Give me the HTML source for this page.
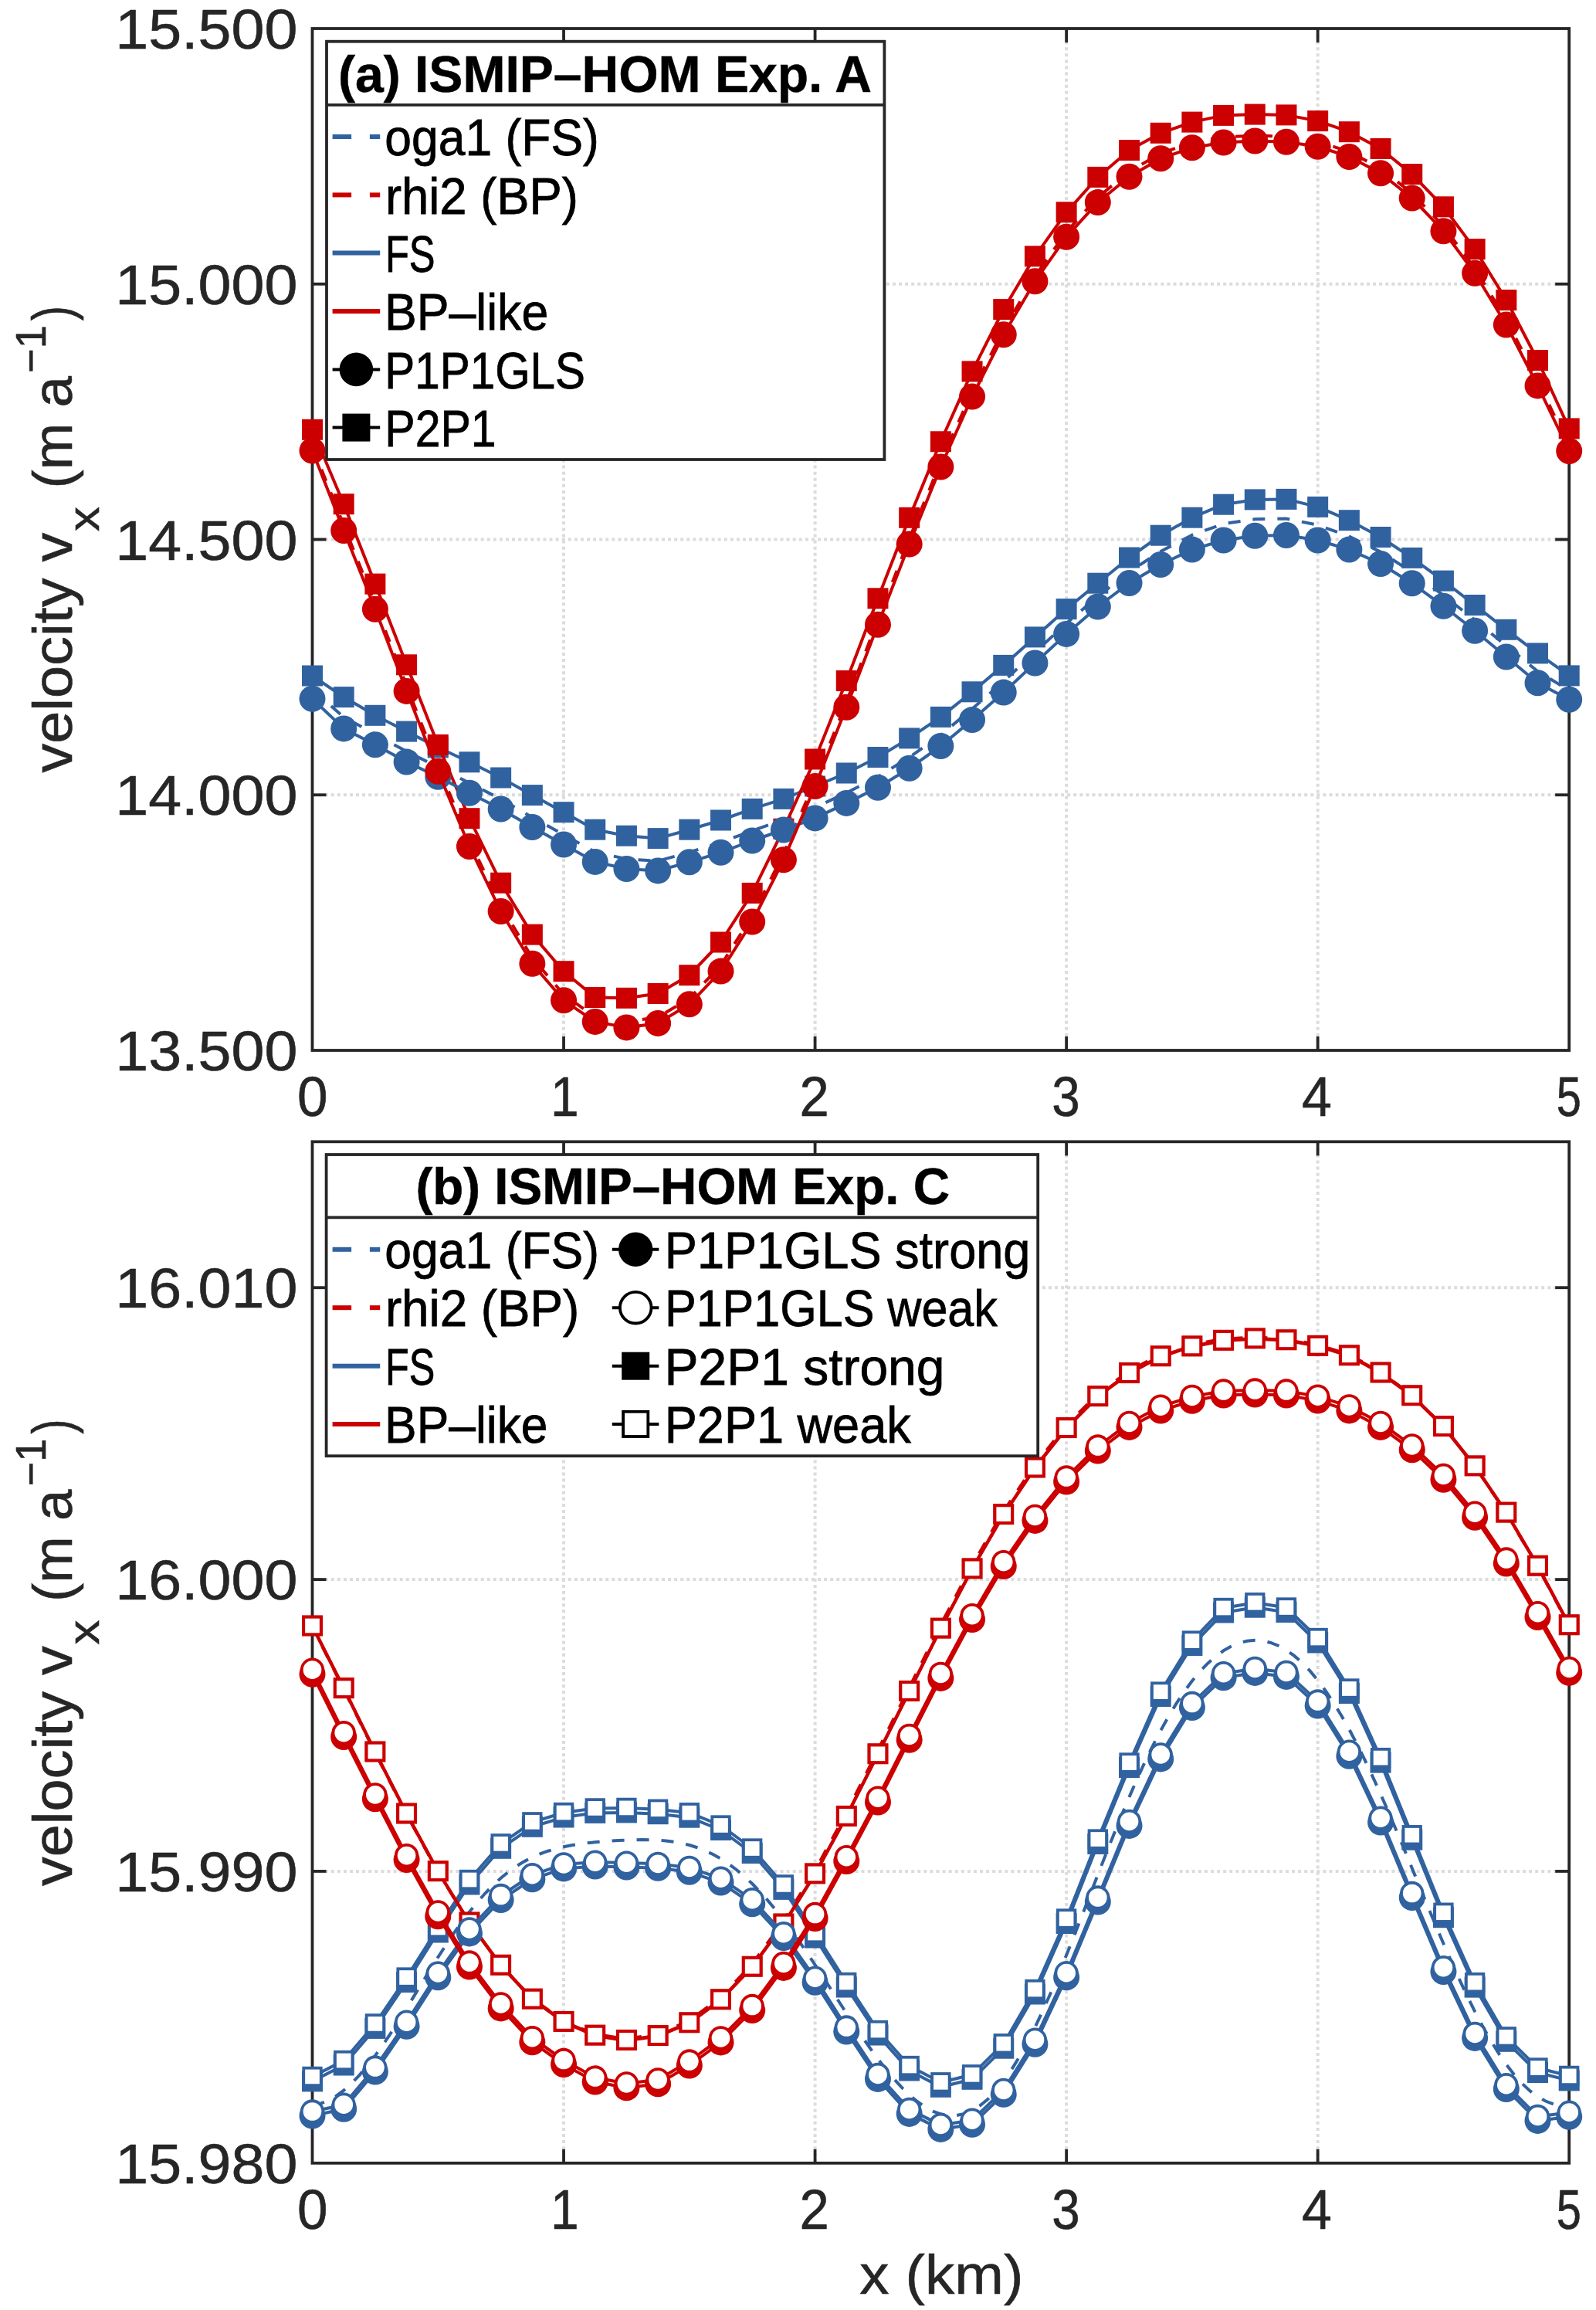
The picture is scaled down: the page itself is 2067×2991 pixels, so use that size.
<!DOCTYPE html><html><head><meta charset="utf-8"><style>html,body{margin:0;padding:0;background:#fff;overflow:hidden;}svg{display:block;}</style></head><body><svg width="2067" height="2991" viewBox="0 0 2067 2991"><rect width="2067" height="2991" fill="#fff"/><line x1="730.04" y1="37" x2="730.04" y2="1360" stroke="#dcdcdc" stroke-width="4" stroke-dasharray="4 4.08"/><line x1="1055.58" y1="37" x2="1055.58" y2="1360" stroke="#dcdcdc" stroke-width="4" stroke-dasharray="4 4.08"/><line x1="1381.12" y1="37" x2="1381.12" y2="1360" stroke="#dcdcdc" stroke-width="4" stroke-dasharray="4 4.08"/><line x1="1706.66" y1="37" x2="1706.66" y2="1360" stroke="#dcdcdc" stroke-width="4" stroke-dasharray="4 4.08"/><line x1="404.5" y1="1029.25" x2="2032.2" y2="1029.25" stroke="#dcdcdc" stroke-width="4" stroke-dasharray="4 4.08"/><line x1="404.5" y1="698.5" x2="2032.2" y2="698.5" stroke="#dcdcdc" stroke-width="4" stroke-dasharray="4 4.08"/><line x1="404.5" y1="367.75" x2="2032.2" y2="367.75" stroke="#dcdcdc" stroke-width="4" stroke-dasharray="4 4.08"/><line x1="730.04" y1="1478.3" x2="730.04" y2="2800.8" stroke="#dcdcdc" stroke-width="4" stroke-dasharray="4 4.08"/><line x1="1055.58" y1="1478.3" x2="1055.58" y2="2800.8" stroke="#dcdcdc" stroke-width="4" stroke-dasharray="4 4.08"/><line x1="1381.12" y1="1478.3" x2="1381.12" y2="2800.8" stroke="#dcdcdc" stroke-width="4" stroke-dasharray="4 4.08"/><line x1="1706.66" y1="1478.3" x2="1706.66" y2="2800.8" stroke="#dcdcdc" stroke-width="4" stroke-dasharray="4 4.08"/><line x1="404.5" y1="2422.94" x2="2032.2" y2="2422.94" stroke="#dcdcdc" stroke-width="4" stroke-dasharray="4 4.08"/><line x1="404.5" y1="2045.09" x2="2032.2" y2="2045.09" stroke="#dcdcdc" stroke-width="4" stroke-dasharray="4 4.08"/><line x1="404.5" y1="1667.23" x2="2032.2" y2="1667.23" stroke="#dcdcdc" stroke-width="4" stroke-dasharray="4 4.08"/><rect x="404.5" y="37" width="1627.7" height="1323" fill="none" stroke="#262626" stroke-width="3.8"/><line x1="730.04" y1="1360" x2="730.04" y2="1342" stroke="#262626" stroke-width="3.8"/><line x1="730.04" y1="37" x2="730.04" y2="55" stroke="#262626" stroke-width="3.8"/><line x1="1055.58" y1="1360" x2="1055.58" y2="1342" stroke="#262626" stroke-width="3.8"/><line x1="1055.58" y1="37" x2="1055.58" y2="55" stroke="#262626" stroke-width="3.8"/><line x1="1381.12" y1="1360" x2="1381.12" y2="1342" stroke="#262626" stroke-width="3.8"/><line x1="1381.12" y1="37" x2="1381.12" y2="55" stroke="#262626" stroke-width="3.8"/><line x1="1706.66" y1="1360" x2="1706.66" y2="1342" stroke="#262626" stroke-width="3.8"/><line x1="1706.66" y1="37" x2="1706.66" y2="55" stroke="#262626" stroke-width="3.8"/><line x1="404.5" y1="1029.25" x2="422.5" y2="1029.25" stroke="#262626" stroke-width="3.8"/><line x1="2032.2" y1="1029.25" x2="2014.2" y2="1029.25" stroke="#262626" stroke-width="3.8"/><line x1="404.5" y1="698.5" x2="422.5" y2="698.5" stroke="#262626" stroke-width="3.8"/><line x1="2032.2" y1="698.5" x2="2014.2" y2="698.5" stroke="#262626" stroke-width="3.8"/><line x1="404.5" y1="367.75" x2="422.5" y2="367.75" stroke="#262626" stroke-width="3.8"/><line x1="2032.2" y1="367.75" x2="2014.2" y2="367.75" stroke="#262626" stroke-width="3.8"/><rect x="404.5" y="1478.3" width="1627.7" height="1322.5" fill="none" stroke="#262626" stroke-width="3.8"/><line x1="730.04" y1="2800.8" x2="730.04" y2="2782.8" stroke="#262626" stroke-width="3.8"/><line x1="730.04" y1="1478.3" x2="730.04" y2="1496.3" stroke="#262626" stroke-width="3.8"/><line x1="1055.58" y1="2800.8" x2="1055.58" y2="2782.8" stroke="#262626" stroke-width="3.8"/><line x1="1055.58" y1="1478.3" x2="1055.58" y2="1496.3" stroke="#262626" stroke-width="3.8"/><line x1="1381.12" y1="2800.8" x2="1381.12" y2="2782.8" stroke="#262626" stroke-width="3.8"/><line x1="1381.12" y1="1478.3" x2="1381.12" y2="1496.3" stroke="#262626" stroke-width="3.8"/><line x1="1706.66" y1="2800.8" x2="1706.66" y2="2782.8" stroke="#262626" stroke-width="3.8"/><line x1="1706.66" y1="1478.3" x2="1706.66" y2="1496.3" stroke="#262626" stroke-width="3.8"/><line x1="404.5" y1="2422.94" x2="422.5" y2="2422.94" stroke="#262626" stroke-width="3.8"/><line x1="2032.2" y1="2422.94" x2="2014.2" y2="2422.94" stroke="#262626" stroke-width="3.8"/><line x1="404.5" y1="2045.09" x2="422.5" y2="2045.09" stroke="#262626" stroke-width="3.8"/><line x1="2032.2" y1="2045.09" x2="2014.2" y2="2045.09" stroke="#262626" stroke-width="3.8"/><line x1="404.5" y1="1667.23" x2="422.5" y2="1667.23" stroke="#262626" stroke-width="3.8"/><line x1="2032.2" y1="1667.23" x2="2014.2" y2="1667.23" stroke="#262626" stroke-width="3.8"/><polyline points="404.5,893.48 445.19,928.41 485.88,950.73 526.58,973.02 567.27,993.15 607.96,1013.86 648.65,1034.73 689.35,1058.22 730.04,1080.8 770.73,1103.35 811.42,1112.16 852.12,1114.82 892.81,1103.51 933.5,1090.83 974.19,1075.54 1014.89,1061.53 1055.58,1045.61 1096.27,1026.53 1136.97,1005.84 1177.66,980.5 1218.35,951.71 1259.04,917.85 1299.74,882.35 1340.43,844.51 1381.12,807.11 1421.81,772.27 1462.51,740.32 1503.2,713.94 1543.89,692.72 1584.58,678.25 1625.28,672.23 1665.97,671.61 1706.66,679.84 1747.35,694.5 1788.05,714.66 1828.74,740.88 1869.43,770.84 1910.12,802.94 1950.82,836.25 1991.51,869.23 2032.2,894" fill="none" stroke="#3162a0" stroke-width="4" stroke-linejoin="round" stroke-dasharray="16 16"/><polyline points="404.5,578.14 445.19,680.14 485.88,782.26 526.58,888.08 567.27,991.92 607.96,1088.74 648.65,1172.64 689.35,1240.18 730.04,1287.78 770.73,1316.62 811.42,1322.78 852.12,1317.22 892.81,1292.78 933.5,1250.08 974.19,1186.08 1014.89,1105.28 1055.58,1011.08 1096.27,908.94 1136.97,802 1177.66,697.66 1218.35,597.96 1259.04,507.06 1299.74,426.76 1340.43,357.72 1381.12,300.32 1421.81,255.56 1462.51,221.94 1503.2,198.7 1543.89,184.58 1584.58,177.48 1625.28,175.62 1665.97,176.74 1706.66,183.08 1747.35,196.54 1788.05,217.94 1828.74,250.32 1869.43,292.92 1910.12,347.56 1950.82,414.1 1991.51,492.82 2032.2,578.18" fill="none" stroke="#cc0000" stroke-width="4" stroke-linejoin="round" stroke-dasharray="16 16"/><polyline points="404.5,875 445.19,902.6 485.88,926.3 526.58,947.1 567.27,967.8 607.96,986.8 648.65,1007 689.35,1029.6 730.04,1051.7 770.73,1074.2 811.42,1082.2 852.12,1085.6 892.81,1074.2 933.5,1062 974.19,1047.4 1014.89,1034.4 1055.58,1018 1096.27,1001 1136.97,980.5 1177.66,955.9 1218.35,928.4 1259.04,895.8 1299.74,861.4 1340.43,824.9 1381.12,788.6 1421.81,755.2 1462.51,722 1503.2,693.2 1543.89,670.2 1584.58,653.2 1625.28,646.9 1665.97,646.4 1706.66,656.4 1747.35,673.7 1788.05,695.5 1828.74,722.4 1869.43,752.1 1910.12,783.5 1950.82,815.3 1991.51,845.9 2032.2,874.9" fill="none" stroke="#3162a0" stroke-width="4.0" stroke-linejoin="round"/><rect x="391" y="861.5" width="27" height="27" fill="#3162a0"/><rect x="431.69" y="889.1" width="27" height="27" fill="#3162a0"/><rect x="472.38" y="912.8" width="27" height="27" fill="#3162a0"/><rect x="513.08" y="933.6" width="27" height="27" fill="#3162a0"/><rect x="553.77" y="954.3" width="27" height="27" fill="#3162a0"/><rect x="594.46" y="973.3" width="27" height="27" fill="#3162a0"/><rect x="635.15" y="993.5" width="27" height="27" fill="#3162a0"/><rect x="675.85" y="1016.1" width="27" height="27" fill="#3162a0"/><rect x="716.54" y="1038.2" width="27" height="27" fill="#3162a0"/><rect x="757.23" y="1060.7" width="27" height="27" fill="#3162a0"/><rect x="797.92" y="1068.7" width="27" height="27" fill="#3162a0"/><rect x="838.62" y="1072.1" width="27" height="27" fill="#3162a0"/><rect x="879.31" y="1060.7" width="27" height="27" fill="#3162a0"/><rect x="920" y="1048.5" width="27" height="27" fill="#3162a0"/><rect x="960.69" y="1033.9" width="27" height="27" fill="#3162a0"/><rect x="1001.39" y="1020.9" width="27" height="27" fill="#3162a0"/><rect x="1042.08" y="1004.5" width="27" height="27" fill="#3162a0"/><rect x="1082.77" y="987.5" width="27" height="27" fill="#3162a0"/><rect x="1123.47" y="967" width="27" height="27" fill="#3162a0"/><rect x="1164.16" y="942.4" width="27" height="27" fill="#3162a0"/><rect x="1204.85" y="914.9" width="27" height="27" fill="#3162a0"/><rect x="1245.54" y="882.3" width="27" height="27" fill="#3162a0"/><rect x="1286.24" y="847.9" width="27" height="27" fill="#3162a0"/><rect x="1326.93" y="811.4" width="27" height="27" fill="#3162a0"/><rect x="1367.62" y="775.1" width="27" height="27" fill="#3162a0"/><rect x="1408.31" y="741.7" width="27" height="27" fill="#3162a0"/><rect x="1449.01" y="708.5" width="27" height="27" fill="#3162a0"/><rect x="1489.7" y="679.7" width="27" height="27" fill="#3162a0"/><rect x="1530.39" y="656.7" width="27" height="27" fill="#3162a0"/><rect x="1571.08" y="639.7" width="27" height="27" fill="#3162a0"/><rect x="1611.78" y="633.4" width="27" height="27" fill="#3162a0"/><rect x="1652.47" y="632.9" width="27" height="27" fill="#3162a0"/><rect x="1693.16" y="642.9" width="27" height="27" fill="#3162a0"/><rect x="1733.85" y="660.2" width="27" height="27" fill="#3162a0"/><rect x="1774.55" y="682" width="27" height="27" fill="#3162a0"/><rect x="1815.24" y="708.9" width="27" height="27" fill="#3162a0"/><rect x="1855.93" y="738.6" width="27" height="27" fill="#3162a0"/><rect x="1896.62" y="770" width="27" height="27" fill="#3162a0"/><rect x="1937.32" y="801.8" width="27" height="27" fill="#3162a0"/><rect x="1978.01" y="832.4" width="27" height="27" fill="#3162a0"/><rect x="2018.7" y="861.4" width="27" height="27" fill="#3162a0"/><polyline points="404.5,556.3 445.19,652.7 485.88,756.1 526.58,860.8 567.27,964.4 607.96,1059.7 648.65,1143.2 689.35,1210.1 730.04,1257.7 770.73,1291.5 811.42,1292.3 852.12,1286.5 892.81,1262.7 933.5,1220 974.19,1156.4 1014.89,1073.2 1055.58,983 1096.27,881.5 1136.97,774.8 1177.66,670.3 1218.35,571.8 1259.04,480.9 1299.74,400.6 1340.43,331.8 1381.12,274.8 1421.81,229.4 1462.51,194.5 1503.2,172.3 1543.89,158.1 1584.58,149.4 1625.28,148.1 1665.97,148.9 1706.66,156.6 1747.35,170.7 1788.05,192.5 1828.74,225.6 1869.43,267.8 1910.12,322.6 1950.82,388.5 1991.51,466.5 2032.2,554.9" fill="none" stroke="#cc0000" stroke-width="4.0" stroke-linejoin="round"/><rect x="391" y="542.8" width="27" height="27" fill="#cc0000"/><rect x="431.69" y="639.2" width="27" height="27" fill="#cc0000"/><rect x="472.38" y="742.6" width="27" height="27" fill="#cc0000"/><rect x="513.08" y="847.3" width="27" height="27" fill="#cc0000"/><rect x="553.77" y="950.9" width="27" height="27" fill="#cc0000"/><rect x="594.46" y="1046.2" width="27" height="27" fill="#cc0000"/><rect x="635.15" y="1129.7" width="27" height="27" fill="#cc0000"/><rect x="675.85" y="1196.6" width="27" height="27" fill="#cc0000"/><rect x="716.54" y="1244.2" width="27" height="27" fill="#cc0000"/><rect x="757.23" y="1278" width="27" height="27" fill="#cc0000"/><rect x="797.92" y="1278.8" width="27" height="27" fill="#cc0000"/><rect x="838.62" y="1273" width="27" height="27" fill="#cc0000"/><rect x="879.31" y="1249.2" width="27" height="27" fill="#cc0000"/><rect x="920" y="1206.5" width="27" height="27" fill="#cc0000"/><rect x="960.69" y="1142.9" width="27" height="27" fill="#cc0000"/><rect x="1001.39" y="1059.7" width="27" height="27" fill="#cc0000"/><rect x="1042.08" y="969.5" width="27" height="27" fill="#cc0000"/><rect x="1082.77" y="868" width="27" height="27" fill="#cc0000"/><rect x="1123.47" y="761.3" width="27" height="27" fill="#cc0000"/><rect x="1164.16" y="656.8" width="27" height="27" fill="#cc0000"/><rect x="1204.85" y="558.3" width="27" height="27" fill="#cc0000"/><rect x="1245.54" y="467.4" width="27" height="27" fill="#cc0000"/><rect x="1286.24" y="387.1" width="27" height="27" fill="#cc0000"/><rect x="1326.93" y="318.3" width="27" height="27" fill="#cc0000"/><rect x="1367.62" y="261.3" width="27" height="27" fill="#cc0000"/><rect x="1408.31" y="215.9" width="27" height="27" fill="#cc0000"/><rect x="1449.01" y="181" width="27" height="27" fill="#cc0000"/><rect x="1489.7" y="158.8" width="27" height="27" fill="#cc0000"/><rect x="1530.39" y="144.6" width="27" height="27" fill="#cc0000"/><rect x="1571.08" y="135.9" width="27" height="27" fill="#cc0000"/><rect x="1611.78" y="134.6" width="27" height="27" fill="#cc0000"/><rect x="1652.47" y="135.4" width="27" height="27" fill="#cc0000"/><rect x="1693.16" y="143.1" width="27" height="27" fill="#cc0000"/><rect x="1733.85" y="157.2" width="27" height="27" fill="#cc0000"/><rect x="1774.55" y="179" width="27" height="27" fill="#cc0000"/><rect x="1815.24" y="212.1" width="27" height="27" fill="#cc0000"/><rect x="1855.93" y="254.3" width="27" height="27" fill="#cc0000"/><rect x="1896.62" y="309.1" width="27" height="27" fill="#cc0000"/><rect x="1937.32" y="375" width="27" height="27" fill="#cc0000"/><rect x="1978.01" y="453" width="27" height="27" fill="#cc0000"/><rect x="2018.7" y="541.4" width="27" height="27" fill="#cc0000"/><polyline points="404.5,904.8 445.19,943.4 485.88,964.2 526.58,986.6 567.27,1005.8 607.96,1026.8 648.65,1047.5 689.35,1071 730.04,1093.5 770.73,1115.9 811.42,1125 852.12,1127.4 892.81,1116.3 933.5,1103.7 974.19,1088.5 1014.89,1074.5 1055.58,1059.4 1096.27,1039.9 1136.97,1019.8 1177.66,994.8 1218.35,966 1259.04,932.1 1299.74,896.6 1340.43,858.5 1381.12,820.9 1421.81,785.5 1462.51,755 1503.2,731 1543.89,711.6 1584.58,699.5 1625.28,693.8 1665.97,693 1706.66,699.5 1747.35,711.6 1788.05,730 1828.74,755.2 1869.43,784.8 1910.12,816.8 1950.82,850.5 1991.51,884.3 2032.2,905.7" fill="none" stroke="#3162a0" stroke-width="4.0" stroke-linejoin="round"/><circle cx="404.5" cy="904.8" r="17" fill="#3162a0"/><circle cx="445.19" cy="943.4" r="17" fill="#3162a0"/><circle cx="485.88" cy="964.2" r="17" fill="#3162a0"/><circle cx="526.58" cy="986.6" r="17" fill="#3162a0"/><circle cx="567.27" cy="1005.8" r="17" fill="#3162a0"/><circle cx="607.96" cy="1026.8" r="17" fill="#3162a0"/><circle cx="648.65" cy="1047.5" r="17" fill="#3162a0"/><circle cx="689.35" cy="1071" r="17" fill="#3162a0"/><circle cx="730.04" cy="1093.5" r="17" fill="#3162a0"/><circle cx="770.73" cy="1115.9" r="17" fill="#3162a0"/><circle cx="811.42" cy="1125" r="17" fill="#3162a0"/><circle cx="852.12" cy="1127.4" r="17" fill="#3162a0"/><circle cx="892.81" cy="1116.3" r="17" fill="#3162a0"/><circle cx="933.5" cy="1103.7" r="17" fill="#3162a0"/><circle cx="974.19" cy="1088.5" r="17" fill="#3162a0"/><circle cx="1014.89" cy="1074.5" r="17" fill="#3162a0"/><circle cx="1055.58" cy="1059.4" r="17" fill="#3162a0"/><circle cx="1096.27" cy="1039.9" r="17" fill="#3162a0"/><circle cx="1136.97" cy="1019.8" r="17" fill="#3162a0"/><circle cx="1177.66" cy="994.8" r="17" fill="#3162a0"/><circle cx="1218.35" cy="966" r="17" fill="#3162a0"/><circle cx="1259.04" cy="932.1" r="17" fill="#3162a0"/><circle cx="1299.74" cy="896.6" r="17" fill="#3162a0"/><circle cx="1340.43" cy="858.5" r="17" fill="#3162a0"/><circle cx="1381.12" cy="820.9" r="17" fill="#3162a0"/><circle cx="1421.81" cy="785.5" r="17" fill="#3162a0"/><circle cx="1462.51" cy="755" r="17" fill="#3162a0"/><circle cx="1503.2" cy="731" r="17" fill="#3162a0"/><circle cx="1543.89" cy="711.6" r="17" fill="#3162a0"/><circle cx="1584.58" cy="699.5" r="17" fill="#3162a0"/><circle cx="1625.28" cy="693.8" r="17" fill="#3162a0"/><circle cx="1665.97" cy="693" r="17" fill="#3162a0"/><circle cx="1706.66" cy="699.5" r="17" fill="#3162a0"/><circle cx="1747.35" cy="711.6" r="17" fill="#3162a0"/><circle cx="1788.05" cy="730" r="17" fill="#3162a0"/><circle cx="1828.74" cy="755.2" r="17" fill="#3162a0"/><circle cx="1869.43" cy="784.8" r="17" fill="#3162a0"/><circle cx="1910.12" cy="816.8" r="17" fill="#3162a0"/><circle cx="1950.82" cy="850.5" r="17" fill="#3162a0"/><circle cx="1991.51" cy="884.3" r="17" fill="#3162a0"/><circle cx="2032.2" cy="905.7" r="17" fill="#3162a0"/><polyline points="404.5,583.6 445.19,687 485.88,788.8 526.58,894.9 567.27,998.8 607.96,1096 648.65,1180 689.35,1247.7 730.04,1295.3 770.73,1322.9 811.42,1330.4 852.12,1324.9 892.81,1300.3 933.5,1257.6 974.19,1193.5 1014.89,1113.3 1055.58,1018.1 1096.27,915.8 1136.97,808.8 1177.66,704.5 1218.35,604.5 1259.04,513.6 1299.74,433.3 1340.43,364.2 1381.12,306.7 1421.81,262.1 1462.51,228.8 1503.2,205.3 1543.89,191.2 1584.58,184.5 1625.28,182.5 1665.97,183.7 1706.66,189.7 1747.35,203 1788.05,224.3 1828.74,256.5 1869.43,299.2 1910.12,353.8 1950.82,420.5 1991.51,499.4 2032.2,584" fill="none" stroke="#cc0000" stroke-width="4.0" stroke-linejoin="round"/><circle cx="404.5" cy="583.6" r="17" fill="#cc0000"/><circle cx="445.19" cy="687" r="17" fill="#cc0000"/><circle cx="485.88" cy="788.8" r="17" fill="#cc0000"/><circle cx="526.58" cy="894.9" r="17" fill="#cc0000"/><circle cx="567.27" cy="998.8" r="17" fill="#cc0000"/><circle cx="607.96" cy="1096" r="17" fill="#cc0000"/><circle cx="648.65" cy="1180" r="17" fill="#cc0000"/><circle cx="689.35" cy="1247.7" r="17" fill="#cc0000"/><circle cx="730.04" cy="1295.3" r="17" fill="#cc0000"/><circle cx="770.73" cy="1322.9" r="17" fill="#cc0000"/><circle cx="811.42" cy="1330.4" r="17" fill="#cc0000"/><circle cx="852.12" cy="1324.9" r="17" fill="#cc0000"/><circle cx="892.81" cy="1300.3" r="17" fill="#cc0000"/><circle cx="933.5" cy="1257.6" r="17" fill="#cc0000"/><circle cx="974.19" cy="1193.5" r="17" fill="#cc0000"/><circle cx="1014.89" cy="1113.3" r="17" fill="#cc0000"/><circle cx="1055.58" cy="1018.1" r="17" fill="#cc0000"/><circle cx="1096.27" cy="915.8" r="17" fill="#cc0000"/><circle cx="1136.97" cy="808.8" r="17" fill="#cc0000"/><circle cx="1177.66" cy="704.5" r="17" fill="#cc0000"/><circle cx="1218.35" cy="604.5" r="17" fill="#cc0000"/><circle cx="1259.04" cy="513.6" r="17" fill="#cc0000"/><circle cx="1299.74" cy="433.3" r="17" fill="#cc0000"/><circle cx="1340.43" cy="364.2" r="17" fill="#cc0000"/><circle cx="1381.12" cy="306.7" r="17" fill="#cc0000"/><circle cx="1421.81" cy="262.1" r="17" fill="#cc0000"/><circle cx="1462.51" cy="228.8" r="17" fill="#cc0000"/><circle cx="1503.2" cy="205.3" r="17" fill="#cc0000"/><circle cx="1543.89" cy="191.2" r="17" fill="#cc0000"/><circle cx="1584.58" cy="184.5" r="17" fill="#cc0000"/><circle cx="1625.28" cy="182.5" r="17" fill="#cc0000"/><circle cx="1665.97" cy="183.7" r="17" fill="#cc0000"/><circle cx="1706.66" cy="189.7" r="17" fill="#cc0000"/><circle cx="1747.35" cy="203" r="17" fill="#cc0000"/><circle cx="1788.05" cy="224.3" r="17" fill="#cc0000"/><circle cx="1828.74" cy="256.5" r="17" fill="#cc0000"/><circle cx="1869.43" cy="299.2" r="17" fill="#cc0000"/><circle cx="1910.12" cy="353.8" r="17" fill="#cc0000"/><circle cx="1950.82" cy="420.5" r="17" fill="#cc0000"/><circle cx="1991.51" cy="499.4" r="17" fill="#cc0000"/><circle cx="2032.2" cy="584" r="17" fill="#cc0000"/><polyline points="404.5,2725.97 414.67,2723.89 424.85,2719.93 435.02,2714.15 445.19,2706.65 455.37,2697.52 465.54,2686.88 475.71,2674.88 485.88,2661.67 496.06,2647.41 506.23,2632.29 516.4,2616.49 526.58,2600.22 536.75,2583.67 546.92,2567.04 557.1,2550.52 567.27,2534.3 577.44,2518.54 587.62,2503.41 597.79,2489.04 607.96,2475.54 618.14,2463.01 628.31,2451.51 638.48,2441.09 648.65,2431.75 658.83,2423.5 669,2416.3 679.17,2410.1 689.35,2404.82 699.52,2400.4 709.69,2396.73 719.87,2393.72 730.04,2391.27 740.21,2389.28 750.39,2387.67 760.56,2386.36 770.73,2385.27 780.91,2384.37 791.08,2383.62 801.25,2383 811.42,2382.51 821.6,2382.19 831.77,2382.06 841.94,2382.18 852.12,2382.62 862.29,2383.44 872.46,2384.74 882.64,2386.58 892.81,2389.05 902.98,2392.23 913.16,2396.2 923.33,2401.01 933.5,2406.72 943.68,2413.36 953.85,2420.96 964.02,2429.53 974.2,2439.05 984.37,2449.51 994.54,2460.86 1004.71,2473.07 1014.89,2486.04 1025.06,2499.73 1035.23,2514.02 1045.41,2528.83 1055.58,2544.05 1065.75,2559.57 1075.93,2575.26 1086.1,2591 1096.27,2606.66 1106.45,2622.11 1116.62,2637.21 1126.79,2651.82 1136.97,2665.78 1147.14,2678.97 1157.31,2691.23 1167.48,2702.41 1177.66,2712.37 1187.83,2720.98 1198,2728.08 1208.18,2733.55 1218.35,2737.28 1228.52,2739.14 1238.7,2739.06 1248.87,2736.94 1259.04,2732.74 1269.22,2726.41 1279.39,2717.94 1289.56,2707.36 1299.74,2694.69 1309.91,2680 1320.08,2663.39 1330.25,2644.98 1340.43,2624.9 1350.6,2603.33 1360.77,2580.45 1370.95,2556.45 1381.12,2531.56 1391.29,2505.99 1401.47,2479.98 1411.64,2453.74 1421.81,2427.51 1431.99,2401.49 1442.16,2375.89 1452.33,2350.91 1462.51,2326.72 1472.68,2303.47 1482.85,2281.31 1493.02,2260.35 1503.2,2240.7 1513.37,2222.43 1523.54,2205.62 1533.72,2190.31 1543.89,2176.53 1554.06,2164.33 1564.24,2153.72 1574.41,2144.7 1584.58,2137.29 1594.76,2131.5 1604.93,2127.33 1615.1,2124.79 1625.28,2123.87 1635.45,2124.59 1645.62,2126.96 1655.79,2130.97 1665.97,2136.62 1676.14,2143.92 1686.31,2152.86 1696.49,2163.42 1706.66,2175.57 1716.83,2189.28 1727.01,2204.5 1737.18,2221.17 1747.35,2239.2 1757.53,2258.52 1767.7,2279.01 1777.87,2300.55 1788.05,2323.01 1798.22,2346.24 1808.39,2370.09 1818.56,2394.39 1828.74,2418.97 1838.91,2443.66 1849.08,2468.26 1859.26,2492.61 1869.43,2516.54 1879.6,2539.85 1889.78,2562.39 1899.95,2584 1910.12,2604.52 1920.3,2623.82 1930.47,2641.75 1940.64,2658.2 1950.82,2673.05 1960.99,2686.22 1971.16,2697.61 1981.33,2707.17 1991.51,2714.83 2001.68,2720.55 2011.85,2724.32 2022.03,2726.12 2032.2,2725.97" fill="none" stroke="#3162a0" stroke-width="4" stroke-dasharray="16 16"/><polyline points="403,2103.5 443.69,2184.2 484.38,2266.5 525.08,2346.5 565.77,2421.2 606.46,2487.5 647.15,2542.7 687.85,2586.6 728.54,2615.9 769.23,2633.6 809.92,2639.9 850.62,2634.1 891.31,2617.3 932,2587.3 972.69,2544.7 1013.39,2489.5 1054.08,2424.4 1094.77,2349.9 1135.47,2269.3 1176.16,2188 1216.85,2106.6 1257.54,2029.4 1298.24,1959.1 1338.93,1898.5 1379.62,1847.1 1420.31,1806.2 1461.01,1776.1 1501.7,1754.3 1542.39,1741.4 1583.08,1733.8 1623.78,1731.4 1664.47,1733.3 1705.16,1740.8 1745.85,1753.3 1786.55,1775.5 1827.24,1805.3 1867.93,1845.1 1908.62,1896.4 1949.32,1956.6 1990.01,2025.7 2030.7,2102.3" fill="none" stroke="#cc0000" stroke-width="4" stroke-linejoin="round" stroke-dasharray="16 16"/><polyline points="404.5,2694.9 445.19,2674 485.88,2626.4 526.58,2566.5 567.27,2502 607.96,2440 648.65,2393.3 689.35,2365.3 730.04,2353 770.73,2347.4 811.42,2346.9 852.12,2348.7 892.81,2353.2 933.5,2369.5 974.19,2399.5 1014.89,2446.4 1055.58,2509 1096.27,2573 1136.97,2635 1177.66,2681 1218.35,2702.3 1259.04,2692.3 1299.74,2652.2 1340.43,2582 1381.12,2490.5 1421.81,2387.5 1462.51,2288.5 1503.2,2196.6 1543.89,2130.6 1584.58,2088 1625.28,2081.2 1665.97,2087.5 1706.66,2127 1747.35,2192.5 1788.05,2282.1 1828.74,2382.2 1869.43,2482.7 1910.12,2573.1 1950.82,2643.3 1991.51,2683.5 2032.2,2693.9" fill="none" stroke="#3162a0" stroke-width="4.0" stroke-linejoin="round"/><rect x="391" y="2681.4" width="27" height="27" fill="#3162a0"/><rect x="431.69" y="2660.5" width="27" height="27" fill="#3162a0"/><rect x="472.38" y="2612.9" width="27" height="27" fill="#3162a0"/><rect x="513.08" y="2553" width="27" height="27" fill="#3162a0"/><rect x="553.77" y="2488.5" width="27" height="27" fill="#3162a0"/><rect x="594.46" y="2426.5" width="27" height="27" fill="#3162a0"/><rect x="635.15" y="2379.8" width="27" height="27" fill="#3162a0"/><rect x="675.85" y="2351.8" width="27" height="27" fill="#3162a0"/><rect x="716.54" y="2339.5" width="27" height="27" fill="#3162a0"/><rect x="757.23" y="2333.9" width="27" height="27" fill="#3162a0"/><rect x="797.92" y="2333.4" width="27" height="27" fill="#3162a0"/><rect x="838.62" y="2335.2" width="27" height="27" fill="#3162a0"/><rect x="879.31" y="2339.7" width="27" height="27" fill="#3162a0"/><rect x="920" y="2356" width="27" height="27" fill="#3162a0"/><rect x="960.69" y="2386" width="27" height="27" fill="#3162a0"/><rect x="1001.39" y="2432.9" width="27" height="27" fill="#3162a0"/><rect x="1042.08" y="2495.5" width="27" height="27" fill="#3162a0"/><rect x="1082.77" y="2559.5" width="27" height="27" fill="#3162a0"/><rect x="1123.47" y="2621.5" width="27" height="27" fill="#3162a0"/><rect x="1164.16" y="2667.5" width="27" height="27" fill="#3162a0"/><rect x="1204.85" y="2688.8" width="27" height="27" fill="#3162a0"/><rect x="1245.54" y="2678.8" width="27" height="27" fill="#3162a0"/><rect x="1286.24" y="2638.7" width="27" height="27" fill="#3162a0"/><rect x="1326.93" y="2568.5" width="27" height="27" fill="#3162a0"/><rect x="1367.62" y="2477" width="27" height="27" fill="#3162a0"/><rect x="1408.31" y="2374" width="27" height="27" fill="#3162a0"/><rect x="1449.01" y="2275" width="27" height="27" fill="#3162a0"/><rect x="1489.7" y="2183.1" width="27" height="27" fill="#3162a0"/><rect x="1530.39" y="2117.1" width="27" height="27" fill="#3162a0"/><rect x="1571.08" y="2074.5" width="27" height="27" fill="#3162a0"/><rect x="1611.78" y="2067.7" width="27" height="27" fill="#3162a0"/><rect x="1652.47" y="2074" width="27" height="27" fill="#3162a0"/><rect x="1693.16" y="2113.5" width="27" height="27" fill="#3162a0"/><rect x="1733.85" y="2179" width="27" height="27" fill="#3162a0"/><rect x="1774.55" y="2268.6" width="27" height="27" fill="#3162a0"/><rect x="1815.24" y="2368.7" width="27" height="27" fill="#3162a0"/><rect x="1855.93" y="2469.2" width="27" height="27" fill="#3162a0"/><rect x="1896.62" y="2559.6" width="27" height="27" fill="#3162a0"/><rect x="1937.32" y="2629.8" width="27" height="27" fill="#3162a0"/><rect x="1978.01" y="2670" width="27" height="27" fill="#3162a0"/><rect x="2018.7" y="2680.4" width="27" height="27" fill="#3162a0"/><polyline points="404.5,2688.9 445.19,2668 485.88,2620.4 526.58,2560.5 567.27,2496 607.96,2434 648.65,2387.3 689.35,2359.3 730.04,2347 770.73,2341.4 811.42,2340.9 852.12,2342.7 892.81,2347.2 933.5,2363.5 974.19,2393.5 1014.89,2440.4 1055.58,2503 1096.27,2567 1136.97,2629 1177.66,2675 1218.35,2696.3 1259.04,2686.3 1299.74,2646.2 1340.43,2576 1381.12,2484.5 1421.81,2381.5 1462.51,2282.5 1503.2,2190.6 1543.89,2124.6 1584.58,2082 1625.28,2075.2 1665.97,2081.5 1706.66,2121 1747.35,2186.5 1788.05,2276.1 1828.74,2376.2 1869.43,2476.7 1910.12,2567.1 1950.82,2637.3 1991.51,2677.5 2032.2,2687.9" fill="none" stroke="#3162a0" stroke-width="4.0" stroke-linejoin="round"/><rect x="393.25" y="2677.65" width="22.5" height="22.5" fill="#fff" stroke="#3162a0" stroke-width="3.8"/><rect x="433.94" y="2656.75" width="22.5" height="22.5" fill="#fff" stroke="#3162a0" stroke-width="3.8"/><rect x="474.63" y="2609.15" width="22.5" height="22.5" fill="#fff" stroke="#3162a0" stroke-width="3.8"/><rect x="515.33" y="2549.25" width="22.5" height="22.5" fill="#fff" stroke="#3162a0" stroke-width="3.8"/><rect x="556.02" y="2484.75" width="22.5" height="22.5" fill="#fff" stroke="#3162a0" stroke-width="3.8"/><rect x="596.71" y="2422.75" width="22.5" height="22.5" fill="#fff" stroke="#3162a0" stroke-width="3.8"/><rect x="637.4" y="2376.05" width="22.5" height="22.5" fill="#fff" stroke="#3162a0" stroke-width="3.8"/><rect x="678.1" y="2348.05" width="22.5" height="22.5" fill="#fff" stroke="#3162a0" stroke-width="3.8"/><rect x="718.79" y="2335.75" width="22.5" height="22.5" fill="#fff" stroke="#3162a0" stroke-width="3.8"/><rect x="759.48" y="2330.15" width="22.5" height="22.5" fill="#fff" stroke="#3162a0" stroke-width="3.8"/><rect x="800.17" y="2329.65" width="22.5" height="22.5" fill="#fff" stroke="#3162a0" stroke-width="3.8"/><rect x="840.87" y="2331.45" width="22.5" height="22.5" fill="#fff" stroke="#3162a0" stroke-width="3.8"/><rect x="881.56" y="2335.95" width="22.5" height="22.5" fill="#fff" stroke="#3162a0" stroke-width="3.8"/><rect x="922.25" y="2352.25" width="22.5" height="22.5" fill="#fff" stroke="#3162a0" stroke-width="3.8"/><rect x="962.94" y="2382.25" width="22.5" height="22.5" fill="#fff" stroke="#3162a0" stroke-width="3.8"/><rect x="1003.64" y="2429.15" width="22.5" height="22.5" fill="#fff" stroke="#3162a0" stroke-width="3.8"/><rect x="1044.33" y="2491.75" width="22.5" height="22.5" fill="#fff" stroke="#3162a0" stroke-width="3.8"/><rect x="1085.02" y="2555.75" width="22.5" height="22.5" fill="#fff" stroke="#3162a0" stroke-width="3.8"/><rect x="1125.72" y="2617.75" width="22.5" height="22.5" fill="#fff" stroke="#3162a0" stroke-width="3.8"/><rect x="1166.41" y="2663.75" width="22.5" height="22.5" fill="#fff" stroke="#3162a0" stroke-width="3.8"/><rect x="1207.1" y="2685.05" width="22.5" height="22.5" fill="#fff" stroke="#3162a0" stroke-width="3.8"/><rect x="1247.79" y="2675.05" width="22.5" height="22.5" fill="#fff" stroke="#3162a0" stroke-width="3.8"/><rect x="1288.49" y="2634.95" width="22.5" height="22.5" fill="#fff" stroke="#3162a0" stroke-width="3.8"/><rect x="1329.18" y="2564.75" width="22.5" height="22.5" fill="#fff" stroke="#3162a0" stroke-width="3.8"/><rect x="1369.87" y="2473.25" width="22.5" height="22.5" fill="#fff" stroke="#3162a0" stroke-width="3.8"/><rect x="1410.56" y="2370.25" width="22.5" height="22.5" fill="#fff" stroke="#3162a0" stroke-width="3.8"/><rect x="1451.26" y="2271.25" width="22.5" height="22.5" fill="#fff" stroke="#3162a0" stroke-width="3.8"/><rect x="1491.95" y="2179.35" width="22.5" height="22.5" fill="#fff" stroke="#3162a0" stroke-width="3.8"/><rect x="1532.64" y="2113.35" width="22.5" height="22.5" fill="#fff" stroke="#3162a0" stroke-width="3.8"/><rect x="1573.33" y="2070.75" width="22.5" height="22.5" fill="#fff" stroke="#3162a0" stroke-width="3.8"/><rect x="1614.03" y="2063.95" width="22.5" height="22.5" fill="#fff" stroke="#3162a0" stroke-width="3.8"/><rect x="1654.72" y="2070.25" width="22.5" height="22.5" fill="#fff" stroke="#3162a0" stroke-width="3.8"/><rect x="1695.41" y="2109.75" width="22.5" height="22.5" fill="#fff" stroke="#3162a0" stroke-width="3.8"/><rect x="1736.1" y="2175.25" width="22.5" height="22.5" fill="#fff" stroke="#3162a0" stroke-width="3.8"/><rect x="1776.8" y="2264.85" width="22.5" height="22.5" fill="#fff" stroke="#3162a0" stroke-width="3.8"/><rect x="1817.49" y="2364.95" width="22.5" height="22.5" fill="#fff" stroke="#3162a0" stroke-width="3.8"/><rect x="1858.18" y="2465.45" width="22.5" height="22.5" fill="#fff" stroke="#3162a0" stroke-width="3.8"/><rect x="1898.87" y="2555.85" width="22.5" height="22.5" fill="#fff" stroke="#3162a0" stroke-width="3.8"/><rect x="1939.57" y="2626.05" width="22.5" height="22.5" fill="#fff" stroke="#3162a0" stroke-width="3.8"/><rect x="1980.26" y="2666.25" width="22.5" height="22.5" fill="#fff" stroke="#3162a0" stroke-width="3.8"/><rect x="2020.95" y="2676.65" width="22.5" height="22.5" fill="#fff" stroke="#3162a0" stroke-width="3.8"/><polyline points="404.5,2105.8 445.19,2186.5 485.88,2268.8 526.58,2348.8 567.27,2423.5 607.96,2489.8 648.65,2545 689.35,2588.9 730.04,2618.2 770.73,2635.9 811.42,2642.2 852.12,2636.4 892.81,2619.6 933.5,2589.6 974.19,2547 1014.89,2491.8 1055.58,2426.7 1096.27,2352.2 1136.97,2271.6 1177.66,2190.3 1218.35,2108.9 1259.04,2031.7 1299.74,1961.4 1340.43,1900.8 1381.12,1849.4 1421.81,1808.5 1462.51,1778.4 1503.2,1756.6 1543.89,1743.7 1584.58,1736.1 1625.28,1733.7 1665.97,1735.6 1706.66,1743.1 1747.35,1755.6 1788.05,1777.8 1828.74,1807.6 1869.43,1847.4 1910.12,1898.7 1950.82,1958.9 1991.51,2028 2032.2,2104.6" fill="none" stroke="#cc0000" stroke-width="4.0" stroke-linejoin="round"/><rect x="391" y="2091.5" width="27" height="27" fill="#cc0000"/><rect x="431.69" y="2172.2" width="27" height="27" fill="#cc0000"/><rect x="472.38" y="2254.5" width="27" height="27" fill="#cc0000"/><rect x="513.08" y="2334.5" width="27" height="27" fill="#cc0000"/><rect x="553.77" y="2409.2" width="27" height="27" fill="#cc0000"/><rect x="594.46" y="2475.5" width="27" height="27" fill="#cc0000"/><rect x="635.15" y="2530.7" width="27" height="27" fill="#cc0000"/><rect x="675.85" y="2574.6" width="27" height="27" fill="#cc0000"/><rect x="716.54" y="2603.9" width="27" height="27" fill="#cc0000"/><rect x="757.23" y="2621.6" width="27" height="27" fill="#cc0000"/><rect x="797.92" y="2627.9" width="27" height="27" fill="#cc0000"/><rect x="838.62" y="2622.1" width="27" height="27" fill="#cc0000"/><rect x="879.31" y="2605.3" width="27" height="27" fill="#cc0000"/><rect x="920" y="2575.3" width="27" height="27" fill="#cc0000"/><rect x="960.69" y="2532.7" width="27" height="27" fill="#cc0000"/><rect x="1001.39" y="2477.5" width="27" height="27" fill="#cc0000"/><rect x="1042.08" y="2412.4" width="27" height="27" fill="#cc0000"/><rect x="1082.77" y="2337.9" width="27" height="27" fill="#cc0000"/><rect x="1123.47" y="2257.3" width="27" height="27" fill="#cc0000"/><rect x="1164.16" y="2176" width="27" height="27" fill="#cc0000"/><rect x="1204.85" y="2094.6" width="27" height="27" fill="#cc0000"/><rect x="1245.54" y="2017.4" width="27" height="27" fill="#cc0000"/><rect x="1286.24" y="1947.1" width="27" height="27" fill="#cc0000"/><rect x="1326.93" y="1886.5" width="27" height="27" fill="#cc0000"/><rect x="1367.62" y="1835.1" width="27" height="27" fill="#cc0000"/><rect x="1408.31" y="1794.2" width="27" height="27" fill="#cc0000"/><rect x="1449.01" y="1764.1" width="27" height="27" fill="#cc0000"/><rect x="1489.7" y="1742.3" width="27" height="27" fill="#cc0000"/><rect x="1530.39" y="1729.4" width="27" height="27" fill="#cc0000"/><rect x="1571.08" y="1721.8" width="27" height="27" fill="#cc0000"/><rect x="1611.78" y="1719.4" width="27" height="27" fill="#cc0000"/><rect x="1652.47" y="1721.3" width="27" height="27" fill="#cc0000"/><rect x="1693.16" y="1728.8" width="27" height="27" fill="#cc0000"/><rect x="1733.85" y="1741.3" width="27" height="27" fill="#cc0000"/><rect x="1774.55" y="1763.5" width="27" height="27" fill="#cc0000"/><rect x="1815.24" y="1793.3" width="27" height="27" fill="#cc0000"/><rect x="1855.93" y="1833.1" width="27" height="27" fill="#cc0000"/><rect x="1896.62" y="1884.4" width="27" height="27" fill="#cc0000"/><rect x="1937.32" y="1944.6" width="27" height="27" fill="#cc0000"/><rect x="1978.01" y="2013.7" width="27" height="27" fill="#cc0000"/><rect x="2018.7" y="2090.3" width="27" height="27" fill="#cc0000"/><polyline points="404.5,2105 445.19,2185.7 485.88,2268 526.58,2348 567.27,2422.7 607.96,2489 648.65,2544.2 689.35,2588.1 730.04,2617.4 770.73,2635.1 811.42,2641.4 852.12,2635.6 892.81,2618.8 933.5,2588.8 974.19,2546.2 1014.89,2491 1055.58,2425.9 1096.27,2351.4 1136.97,2270.8 1177.66,2189.5 1218.35,2108.1 1259.04,2030.9 1299.74,1960.6 1340.43,1900 1381.12,1848.6 1421.81,1807.7 1462.51,1777.6 1503.2,1755.8 1543.89,1742.9 1584.58,1735.3 1625.28,1732.9 1665.97,1734.8 1706.66,1742.3 1747.35,1754.8 1788.05,1777 1828.74,1806.8 1869.43,1846.6 1910.12,1897.9 1950.82,1958.1 1991.51,2027.2 2032.2,2103.8" fill="none" stroke="#cc0000" stroke-width="4.0" stroke-linejoin="round"/><rect x="393.25" y="2093.75" width="22.5" height="22.5" fill="#fff" stroke="#cc0000" stroke-width="3.8"/><rect x="433.94" y="2174.45" width="22.5" height="22.5" fill="#fff" stroke="#cc0000" stroke-width="3.8"/><rect x="474.63" y="2256.75" width="22.5" height="22.5" fill="#fff" stroke="#cc0000" stroke-width="3.8"/><rect x="515.33" y="2336.75" width="22.5" height="22.5" fill="#fff" stroke="#cc0000" stroke-width="3.8"/><rect x="556.02" y="2411.45" width="22.5" height="22.5" fill="#fff" stroke="#cc0000" stroke-width="3.8"/><rect x="596.71" y="2477.75" width="22.5" height="22.5" fill="#fff" stroke="#cc0000" stroke-width="3.8"/><rect x="637.4" y="2532.95" width="22.5" height="22.5" fill="#fff" stroke="#cc0000" stroke-width="3.8"/><rect x="678.1" y="2576.85" width="22.5" height="22.5" fill="#fff" stroke="#cc0000" stroke-width="3.8"/><rect x="718.79" y="2606.15" width="22.5" height="22.5" fill="#fff" stroke="#cc0000" stroke-width="3.8"/><rect x="759.48" y="2623.85" width="22.5" height="22.5" fill="#fff" stroke="#cc0000" stroke-width="3.8"/><rect x="800.17" y="2630.15" width="22.5" height="22.5" fill="#fff" stroke="#cc0000" stroke-width="3.8"/><rect x="840.87" y="2624.35" width="22.5" height="22.5" fill="#fff" stroke="#cc0000" stroke-width="3.8"/><rect x="881.56" y="2607.55" width="22.5" height="22.5" fill="#fff" stroke="#cc0000" stroke-width="3.8"/><rect x="922.25" y="2577.55" width="22.5" height="22.5" fill="#fff" stroke="#cc0000" stroke-width="3.8"/><rect x="962.94" y="2534.95" width="22.5" height="22.5" fill="#fff" stroke="#cc0000" stroke-width="3.8"/><rect x="1003.64" y="2479.75" width="22.5" height="22.5" fill="#fff" stroke="#cc0000" stroke-width="3.8"/><rect x="1044.33" y="2414.65" width="22.5" height="22.5" fill="#fff" stroke="#cc0000" stroke-width="3.8"/><rect x="1085.02" y="2340.15" width="22.5" height="22.5" fill="#fff" stroke="#cc0000" stroke-width="3.8"/><rect x="1125.72" y="2259.55" width="22.5" height="22.5" fill="#fff" stroke="#cc0000" stroke-width="3.8"/><rect x="1166.41" y="2178.25" width="22.5" height="22.5" fill="#fff" stroke="#cc0000" stroke-width="3.8"/><rect x="1207.1" y="2096.85" width="22.5" height="22.5" fill="#fff" stroke="#cc0000" stroke-width="3.8"/><rect x="1247.79" y="2019.65" width="22.5" height="22.5" fill="#fff" stroke="#cc0000" stroke-width="3.8"/><rect x="1288.49" y="1949.35" width="22.5" height="22.5" fill="#fff" stroke="#cc0000" stroke-width="3.8"/><rect x="1329.18" y="1888.75" width="22.5" height="22.5" fill="#fff" stroke="#cc0000" stroke-width="3.8"/><rect x="1369.87" y="1837.35" width="22.5" height="22.5" fill="#fff" stroke="#cc0000" stroke-width="3.8"/><rect x="1410.56" y="1796.45" width="22.5" height="22.5" fill="#fff" stroke="#cc0000" stroke-width="3.8"/><rect x="1451.26" y="1766.35" width="22.5" height="22.5" fill="#fff" stroke="#cc0000" stroke-width="3.8"/><rect x="1491.95" y="1744.55" width="22.5" height="22.5" fill="#fff" stroke="#cc0000" stroke-width="3.8"/><rect x="1532.64" y="1731.65" width="22.5" height="22.5" fill="#fff" stroke="#cc0000" stroke-width="3.8"/><rect x="1573.33" y="1724.05" width="22.5" height="22.5" fill="#fff" stroke="#cc0000" stroke-width="3.8"/><rect x="1614.03" y="1721.65" width="22.5" height="22.5" fill="#fff" stroke="#cc0000" stroke-width="3.8"/><rect x="1654.72" y="1723.55" width="22.5" height="22.5" fill="#fff" stroke="#cc0000" stroke-width="3.8"/><rect x="1695.41" y="1731.05" width="22.5" height="22.5" fill="#fff" stroke="#cc0000" stroke-width="3.8"/><rect x="1736.1" y="1743.55" width="22.5" height="22.5" fill="#fff" stroke="#cc0000" stroke-width="3.8"/><rect x="1776.8" y="1765.75" width="22.5" height="22.5" fill="#fff" stroke="#cc0000" stroke-width="3.8"/><rect x="1817.49" y="1795.55" width="22.5" height="22.5" fill="#fff" stroke="#cc0000" stroke-width="3.8"/><rect x="1858.18" y="1835.35" width="22.5" height="22.5" fill="#fff" stroke="#cc0000" stroke-width="3.8"/><rect x="1898.87" y="1886.65" width="22.5" height="22.5" fill="#fff" stroke="#cc0000" stroke-width="3.8"/><rect x="1939.57" y="1946.85" width="22.5" height="22.5" fill="#fff" stroke="#cc0000" stroke-width="3.8"/><rect x="1980.26" y="2015.95" width="22.5" height="22.5" fill="#fff" stroke="#cc0000" stroke-width="3.8"/><rect x="2020.95" y="2092.55" width="22.5" height="22.5" fill="#fff" stroke="#cc0000" stroke-width="3.8"/><polyline points="404.5,2739.5 445.19,2730.7 485.88,2682.5 526.58,2623.7 567.27,2560.3 607.96,2503.4 648.65,2460 689.35,2433.2 730.04,2419.4 770.73,2416.6 811.42,2417.6 852.12,2418.8 892.81,2423.8 933.5,2437.6 974.19,2465.2 1014.89,2509.1 1055.58,2566.7 1096.27,2630.5 1136.97,2691.9 1177.66,2736.9 1218.35,2756.9 1259.04,2750.7 1299.74,2711.8 1340.43,2646.7 1381.12,2560.2 1421.81,2462.5 1462.51,2363.9 1503.2,2277.4 1543.89,2211 1584.58,2172.2 1625.28,2165.9 1665.97,2170.9 1706.66,2208.5 1747.35,2273.7 1788.05,2359.6 1828.74,2457 1869.43,2553.1 1910.12,2638.9 1950.82,2705.1 1991.51,2745.9 2032.2,2740.7" fill="none" stroke="#3162a0" stroke-width="4.0" stroke-linejoin="round"/><circle cx="404.5" cy="2739.5" r="17" fill="#3162a0"/><circle cx="445.19" cy="2730.7" r="17" fill="#3162a0"/><circle cx="485.88" cy="2682.5" r="17" fill="#3162a0"/><circle cx="526.58" cy="2623.7" r="17" fill="#3162a0"/><circle cx="567.27" cy="2560.3" r="17" fill="#3162a0"/><circle cx="607.96" cy="2503.4" r="17" fill="#3162a0"/><circle cx="648.65" cy="2460" r="17" fill="#3162a0"/><circle cx="689.35" cy="2433.2" r="17" fill="#3162a0"/><circle cx="730.04" cy="2419.4" r="17" fill="#3162a0"/><circle cx="770.73" cy="2416.6" r="17" fill="#3162a0"/><circle cx="811.42" cy="2417.6" r="17" fill="#3162a0"/><circle cx="852.12" cy="2418.8" r="17" fill="#3162a0"/><circle cx="892.81" cy="2423.8" r="17" fill="#3162a0"/><circle cx="933.5" cy="2437.6" r="17" fill="#3162a0"/><circle cx="974.19" cy="2465.2" r="17" fill="#3162a0"/><circle cx="1014.89" cy="2509.1" r="17" fill="#3162a0"/><circle cx="1055.58" cy="2566.7" r="17" fill="#3162a0"/><circle cx="1096.27" cy="2630.5" r="17" fill="#3162a0"/><circle cx="1136.97" cy="2691.9" r="17" fill="#3162a0"/><circle cx="1177.66" cy="2736.9" r="17" fill="#3162a0"/><circle cx="1218.35" cy="2756.9" r="17" fill="#3162a0"/><circle cx="1259.04" cy="2750.7" r="17" fill="#3162a0"/><circle cx="1299.74" cy="2711.8" r="17" fill="#3162a0"/><circle cx="1340.43" cy="2646.7" r="17" fill="#3162a0"/><circle cx="1381.12" cy="2560.2" r="17" fill="#3162a0"/><circle cx="1421.81" cy="2462.5" r="17" fill="#3162a0"/><circle cx="1462.51" cy="2363.9" r="17" fill="#3162a0"/><circle cx="1503.2" cy="2277.4" r="17" fill="#3162a0"/><circle cx="1543.89" cy="2211" r="17" fill="#3162a0"/><circle cx="1584.58" cy="2172.2" r="17" fill="#3162a0"/><circle cx="1625.28" cy="2165.9" r="17" fill="#3162a0"/><circle cx="1665.97" cy="2170.9" r="17" fill="#3162a0"/><circle cx="1706.66" cy="2208.5" r="17" fill="#3162a0"/><circle cx="1747.35" cy="2273.7" r="17" fill="#3162a0"/><circle cx="1788.05" cy="2359.6" r="17" fill="#3162a0"/><circle cx="1828.74" cy="2457" r="17" fill="#3162a0"/><circle cx="1869.43" cy="2553.1" r="17" fill="#3162a0"/><circle cx="1910.12" cy="2638.9" r="17" fill="#3162a0"/><circle cx="1950.82" cy="2705.1" r="17" fill="#3162a0"/><circle cx="1991.51" cy="2745.9" r="17" fill="#3162a0"/><circle cx="2032.2" cy="2740.7" r="17" fill="#3162a0"/><polyline points="404.5,2734 445.19,2725.2 485.88,2677 526.58,2618.2 567.27,2554.8 607.96,2497.9 648.65,2454.5 689.35,2427.7 730.04,2413.9 770.73,2411.1 811.42,2412.1 852.12,2413.3 892.81,2418.3 933.5,2432.1 974.19,2459.7 1014.89,2503.6 1055.58,2561.2 1096.27,2625 1136.97,2686.4 1177.66,2731.4 1218.35,2751.4 1259.04,2745.2 1299.74,2706.3 1340.43,2641.2 1381.12,2554.7 1421.81,2457 1462.51,2358.4 1503.2,2271.9 1543.89,2205.5 1584.58,2166.7 1625.28,2160.4 1665.97,2165.4 1706.66,2203 1747.35,2268.2 1788.05,2354.1 1828.74,2451.5 1869.43,2547.6 1910.12,2633.4 1950.82,2699.6 1991.51,2740.4 2032.2,2735.2" fill="none" stroke="#3162a0" stroke-width="4.0" stroke-linejoin="round"/><circle cx="404.5" cy="2734" r="13.75" fill="#fff" stroke="#3162a0" stroke-width="3.8"/><circle cx="445.19" cy="2725.2" r="13.75" fill="#fff" stroke="#3162a0" stroke-width="3.8"/><circle cx="485.88" cy="2677" r="13.75" fill="#fff" stroke="#3162a0" stroke-width="3.8"/><circle cx="526.58" cy="2618.2" r="13.75" fill="#fff" stroke="#3162a0" stroke-width="3.8"/><circle cx="567.27" cy="2554.8" r="13.75" fill="#fff" stroke="#3162a0" stroke-width="3.8"/><circle cx="607.96" cy="2497.9" r="13.75" fill="#fff" stroke="#3162a0" stroke-width="3.8"/><circle cx="648.65" cy="2454.5" r="13.75" fill="#fff" stroke="#3162a0" stroke-width="3.8"/><circle cx="689.35" cy="2427.7" r="13.75" fill="#fff" stroke="#3162a0" stroke-width="3.8"/><circle cx="730.04" cy="2413.9" r="13.75" fill="#fff" stroke="#3162a0" stroke-width="3.8"/><circle cx="770.73" cy="2411.1" r="13.75" fill="#fff" stroke="#3162a0" stroke-width="3.8"/><circle cx="811.42" cy="2412.1" r="13.75" fill="#fff" stroke="#3162a0" stroke-width="3.8"/><circle cx="852.12" cy="2413.3" r="13.75" fill="#fff" stroke="#3162a0" stroke-width="3.8"/><circle cx="892.81" cy="2418.3" r="13.75" fill="#fff" stroke="#3162a0" stroke-width="3.8"/><circle cx="933.5" cy="2432.1" r="13.75" fill="#fff" stroke="#3162a0" stroke-width="3.8"/><circle cx="974.19" cy="2459.7" r="13.75" fill="#fff" stroke="#3162a0" stroke-width="3.8"/><circle cx="1014.89" cy="2503.6" r="13.75" fill="#fff" stroke="#3162a0" stroke-width="3.8"/><circle cx="1055.58" cy="2561.2" r="13.75" fill="#fff" stroke="#3162a0" stroke-width="3.8"/><circle cx="1096.27" cy="2625" r="13.75" fill="#fff" stroke="#3162a0" stroke-width="3.8"/><circle cx="1136.97" cy="2686.4" r="13.75" fill="#fff" stroke="#3162a0" stroke-width="3.8"/><circle cx="1177.66" cy="2731.4" r="13.75" fill="#fff" stroke="#3162a0" stroke-width="3.8"/><circle cx="1218.35" cy="2751.4" r="13.75" fill="#fff" stroke="#3162a0" stroke-width="3.8"/><circle cx="1259.04" cy="2745.2" r="13.75" fill="#fff" stroke="#3162a0" stroke-width="3.8"/><circle cx="1299.74" cy="2706.3" r="13.75" fill="#fff" stroke="#3162a0" stroke-width="3.8"/><circle cx="1340.43" cy="2641.2" r="13.75" fill="#fff" stroke="#3162a0" stroke-width="3.8"/><circle cx="1381.12" cy="2554.7" r="13.75" fill="#fff" stroke="#3162a0" stroke-width="3.8"/><circle cx="1421.81" cy="2457" r="13.75" fill="#fff" stroke="#3162a0" stroke-width="3.8"/><circle cx="1462.51" cy="2358.4" r="13.75" fill="#fff" stroke="#3162a0" stroke-width="3.8"/><circle cx="1503.2" cy="2271.9" r="13.75" fill="#fff" stroke="#3162a0" stroke-width="3.8"/><circle cx="1543.89" cy="2205.5" r="13.75" fill="#fff" stroke="#3162a0" stroke-width="3.8"/><circle cx="1584.58" cy="2166.7" r="13.75" fill="#fff" stroke="#3162a0" stroke-width="3.8"/><circle cx="1625.28" cy="2160.4" r="13.75" fill="#fff" stroke="#3162a0" stroke-width="3.8"/><circle cx="1665.97" cy="2165.4" r="13.75" fill="#fff" stroke="#3162a0" stroke-width="3.8"/><circle cx="1706.66" cy="2203" r="13.75" fill="#fff" stroke="#3162a0" stroke-width="3.8"/><circle cx="1747.35" cy="2268.2" r="13.75" fill="#fff" stroke="#3162a0" stroke-width="3.8"/><circle cx="1788.05" cy="2354.1" r="13.75" fill="#fff" stroke="#3162a0" stroke-width="3.8"/><circle cx="1828.74" cy="2451.5" r="13.75" fill="#fff" stroke="#3162a0" stroke-width="3.8"/><circle cx="1869.43" cy="2547.6" r="13.75" fill="#fff" stroke="#3162a0" stroke-width="3.8"/><circle cx="1910.12" cy="2633.4" r="13.75" fill="#fff" stroke="#3162a0" stroke-width="3.8"/><circle cx="1950.82" cy="2699.6" r="13.75" fill="#fff" stroke="#3162a0" stroke-width="3.8"/><circle cx="1991.51" cy="2740.4" r="13.75" fill="#fff" stroke="#3162a0" stroke-width="3.8"/><circle cx="2032.2" cy="2735.2" r="13.75" fill="#fff" stroke="#3162a0" stroke-width="3.8"/><polyline points="404.5,2167.7 445.19,2249.1 485.88,2329.3 526.58,2408.1 567.27,2481.3 607.96,2546.5 648.65,2600.4 689.35,2644.2 730.04,2673 770.73,2695.5 811.42,2703.3 852.12,2698.3 892.81,2674.5 933.5,2644.4 974.19,2603 1014.89,2547.9 1055.58,2484 1096.27,2410.1 1136.97,2333.6 1177.66,2252.8 1218.35,2172.9 1259.04,2097.1 1299.74,2028.1 1340.43,1968.9 1381.12,1918.5 1421.81,1878.5 1462.51,1847.9 1503.2,1826.6 1543.89,1813.8 1584.58,1806.5 1625.28,1805.5 1665.97,1806.5 1706.66,1813.6 1747.35,1826.4 1788.05,1847.9 1828.74,1877.3 1869.43,1915.8 1910.12,1964.7 1950.82,2024.5 1991.51,2094.1 2032.2,2165.8" fill="none" stroke="#cc0000" stroke-width="4.0" stroke-linejoin="round"/><circle cx="404.5" cy="2167.7" r="17" fill="#cc0000"/><circle cx="445.19" cy="2249.1" r="17" fill="#cc0000"/><circle cx="485.88" cy="2329.3" r="17" fill="#cc0000"/><circle cx="526.58" cy="2408.1" r="17" fill="#cc0000"/><circle cx="567.27" cy="2481.3" r="17" fill="#cc0000"/><circle cx="607.96" cy="2546.5" r="17" fill="#cc0000"/><circle cx="648.65" cy="2600.4" r="17" fill="#cc0000"/><circle cx="689.35" cy="2644.2" r="17" fill="#cc0000"/><circle cx="730.04" cy="2673" r="17" fill="#cc0000"/><circle cx="770.73" cy="2695.5" r="17" fill="#cc0000"/><circle cx="811.42" cy="2703.3" r="17" fill="#cc0000"/><circle cx="852.12" cy="2698.3" r="17" fill="#cc0000"/><circle cx="892.81" cy="2674.5" r="17" fill="#cc0000"/><circle cx="933.5" cy="2644.4" r="17" fill="#cc0000"/><circle cx="974.19" cy="2603" r="17" fill="#cc0000"/><circle cx="1014.89" cy="2547.9" r="17" fill="#cc0000"/><circle cx="1055.58" cy="2484" r="17" fill="#cc0000"/><circle cx="1096.27" cy="2410.1" r="17" fill="#cc0000"/><circle cx="1136.97" cy="2333.6" r="17" fill="#cc0000"/><circle cx="1177.66" cy="2252.8" r="17" fill="#cc0000"/><circle cx="1218.35" cy="2172.9" r="17" fill="#cc0000"/><circle cx="1259.04" cy="2097.1" r="17" fill="#cc0000"/><circle cx="1299.74" cy="2028.1" r="17" fill="#cc0000"/><circle cx="1340.43" cy="1968.9" r="17" fill="#cc0000"/><circle cx="1381.12" cy="1918.5" r="17" fill="#cc0000"/><circle cx="1421.81" cy="1878.5" r="17" fill="#cc0000"/><circle cx="1462.51" cy="1847.9" r="17" fill="#cc0000"/><circle cx="1503.2" cy="1826.6" r="17" fill="#cc0000"/><circle cx="1543.89" cy="1813.8" r="17" fill="#cc0000"/><circle cx="1584.58" cy="1806.5" r="17" fill="#cc0000"/><circle cx="1625.28" cy="1805.5" r="17" fill="#cc0000"/><circle cx="1665.97" cy="1806.5" r="17" fill="#cc0000"/><circle cx="1706.66" cy="1813.6" r="17" fill="#cc0000"/><circle cx="1747.35" cy="1826.4" r="17" fill="#cc0000"/><circle cx="1788.05" cy="1847.9" r="17" fill="#cc0000"/><circle cx="1828.74" cy="1877.3" r="17" fill="#cc0000"/><circle cx="1869.43" cy="1915.8" r="17" fill="#cc0000"/><circle cx="1910.12" cy="1964.7" r="17" fill="#cc0000"/><circle cx="1950.82" cy="2024.5" r="17" fill="#cc0000"/><circle cx="1991.51" cy="2094.1" r="17" fill="#cc0000"/><circle cx="2032.2" cy="2165.8" r="17" fill="#cc0000"/><polyline points="404.5,2162.2 445.19,2243.6 485.88,2323.8 526.58,2402.6 567.27,2475.8 607.96,2541 648.65,2594.9 689.35,2638.7 730.04,2667.5 770.73,2690 811.42,2697.8 852.12,2692.8 892.81,2669 933.5,2638.9 974.19,2597.5 1014.89,2542.4 1055.58,2478.5 1096.27,2404.6 1136.97,2328.1 1177.66,2247.3 1218.35,2167.4 1259.04,2091.6 1299.74,2022.6 1340.43,1963.4 1381.12,1913 1421.81,1873 1462.51,1842.4 1503.2,1821.1 1543.89,1808.3 1584.58,1801 1625.28,1800 1665.97,1801 1706.66,1808.1 1747.35,1820.9 1788.05,1842.4 1828.74,1871.8 1869.43,1910.3 1910.12,1959.2 1950.82,2019 1991.51,2088.6 2032.2,2160.3" fill="none" stroke="#cc0000" stroke-width="4.0" stroke-linejoin="round"/><circle cx="404.5" cy="2162.2" r="13.75" fill="#fff" stroke="#cc0000" stroke-width="3.8"/><circle cx="445.19" cy="2243.6" r="13.75" fill="#fff" stroke="#cc0000" stroke-width="3.8"/><circle cx="485.88" cy="2323.8" r="13.75" fill="#fff" stroke="#cc0000" stroke-width="3.8"/><circle cx="526.58" cy="2402.6" r="13.75" fill="#fff" stroke="#cc0000" stroke-width="3.8"/><circle cx="567.27" cy="2475.8" r="13.75" fill="#fff" stroke="#cc0000" stroke-width="3.8"/><circle cx="607.96" cy="2541" r="13.75" fill="#fff" stroke="#cc0000" stroke-width="3.8"/><circle cx="648.65" cy="2594.9" r="13.75" fill="#fff" stroke="#cc0000" stroke-width="3.8"/><circle cx="689.35" cy="2638.7" r="13.75" fill="#fff" stroke="#cc0000" stroke-width="3.8"/><circle cx="730.04" cy="2667.5" r="13.75" fill="#fff" stroke="#cc0000" stroke-width="3.8"/><circle cx="770.73" cy="2690" r="13.75" fill="#fff" stroke="#cc0000" stroke-width="3.8"/><circle cx="811.42" cy="2697.8" r="13.75" fill="#fff" stroke="#cc0000" stroke-width="3.8"/><circle cx="852.12" cy="2692.8" r="13.75" fill="#fff" stroke="#cc0000" stroke-width="3.8"/><circle cx="892.81" cy="2669" r="13.75" fill="#fff" stroke="#cc0000" stroke-width="3.8"/><circle cx="933.5" cy="2638.9" r="13.75" fill="#fff" stroke="#cc0000" stroke-width="3.8"/><circle cx="974.19" cy="2597.5" r="13.75" fill="#fff" stroke="#cc0000" stroke-width="3.8"/><circle cx="1014.89" cy="2542.4" r="13.75" fill="#fff" stroke="#cc0000" stroke-width="3.8"/><circle cx="1055.58" cy="2478.5" r="13.75" fill="#fff" stroke="#cc0000" stroke-width="3.8"/><circle cx="1096.27" cy="2404.6" r="13.75" fill="#fff" stroke="#cc0000" stroke-width="3.8"/><circle cx="1136.97" cy="2328.1" r="13.75" fill="#fff" stroke="#cc0000" stroke-width="3.8"/><circle cx="1177.66" cy="2247.3" r="13.75" fill="#fff" stroke="#cc0000" stroke-width="3.8"/><circle cx="1218.35" cy="2167.4" r="13.75" fill="#fff" stroke="#cc0000" stroke-width="3.8"/><circle cx="1259.04" cy="2091.6" r="13.75" fill="#fff" stroke="#cc0000" stroke-width="3.8"/><circle cx="1299.74" cy="2022.6" r="13.75" fill="#fff" stroke="#cc0000" stroke-width="3.8"/><circle cx="1340.43" cy="1963.4" r="13.75" fill="#fff" stroke="#cc0000" stroke-width="3.8"/><circle cx="1381.12" cy="1913" r="13.75" fill="#fff" stroke="#cc0000" stroke-width="3.8"/><circle cx="1421.81" cy="1873" r="13.75" fill="#fff" stroke="#cc0000" stroke-width="3.8"/><circle cx="1462.51" cy="1842.4" r="13.75" fill="#fff" stroke="#cc0000" stroke-width="3.8"/><circle cx="1503.2" cy="1821.1" r="13.75" fill="#fff" stroke="#cc0000" stroke-width="3.8"/><circle cx="1543.89" cy="1808.3" r="13.75" fill="#fff" stroke="#cc0000" stroke-width="3.8"/><circle cx="1584.58" cy="1801" r="13.75" fill="#fff" stroke="#cc0000" stroke-width="3.8"/><circle cx="1625.28" cy="1800" r="13.75" fill="#fff" stroke="#cc0000" stroke-width="3.8"/><circle cx="1665.97" cy="1801" r="13.75" fill="#fff" stroke="#cc0000" stroke-width="3.8"/><circle cx="1706.66" cy="1808.1" r="13.75" fill="#fff" stroke="#cc0000" stroke-width="3.8"/><circle cx="1747.35" cy="1820.9" r="13.75" fill="#fff" stroke="#cc0000" stroke-width="3.8"/><circle cx="1788.05" cy="1842.4" r="13.75" fill="#fff" stroke="#cc0000" stroke-width="3.8"/><circle cx="1828.74" cy="1871.8" r="13.75" fill="#fff" stroke="#cc0000" stroke-width="3.8"/><circle cx="1869.43" cy="1910.3" r="13.75" fill="#fff" stroke="#cc0000" stroke-width="3.8"/><circle cx="1910.12" cy="1959.2" r="13.75" fill="#fff" stroke="#cc0000" stroke-width="3.8"/><circle cx="1950.82" cy="2019" r="13.75" fill="#fff" stroke="#cc0000" stroke-width="3.8"/><circle cx="1991.51" cy="2088.6" r="13.75" fill="#fff" stroke="#cc0000" stroke-width="3.8"/><circle cx="2032.2" cy="2160.3" r="13.75" fill="#fff" stroke="#cc0000" stroke-width="3.8"/><rect x="423" y="53.7" width="722.4" height="541.3" fill="#fff" stroke="#262626" stroke-width="3.8"/><line x1="423" y1="135.8" x2="1145.4" y2="135.8" stroke="#262626" stroke-width="3.8"/><line x1="430.6" y1="177" x2="455.1" y2="177" stroke="#3162a0" stroke-width="6"/><line x1="478.9" y1="177" x2="492.2" y2="177" stroke="#3162a0" stroke-width="6"/><line x1="430.6" y1="252.4" x2="455.1" y2="252.4" stroke="#cc0000" stroke-width="6"/><line x1="478.9" y1="252.4" x2="492.2" y2="252.4" stroke="#cc0000" stroke-width="6"/><line x1="430.6" y1="327.6" x2="492.2" y2="327.6" stroke="#3162a0" stroke-width="6"/><line x1="430.6" y1="403" x2="492.2" y2="403" stroke="#cc0000" stroke-width="6"/><line x1="430.6" y1="478.4" x2="492.2" y2="478.4" stroke="#000" stroke-width="4"/><circle cx="461.4" cy="478.4" r="21.8" fill="#000"/><line x1="430.6" y1="553.6" x2="492.2" y2="553.6" stroke="#000" stroke-width="4"/><rect x="443.4" y="535.6" width="36" height="36" fill="#000"/><rect x="422.6" y="1495" width="921.6" height="390.2" fill="#fff" stroke="#262626" stroke-width="3.8"/><line x1="422.6" y1="1576.4" x2="1344.2" y2="1576.4" stroke="#262626" stroke-width="3.8"/><line x1="430.6" y1="1617.8" x2="455.1" y2="1617.8" stroke="#3162a0" stroke-width="6"/><line x1="478.9" y1="1617.8" x2="492.2" y2="1617.8" stroke="#3162a0" stroke-width="6"/><line x1="430.6" y1="1693.2" x2="455.1" y2="1693.2" stroke="#cc0000" stroke-width="6"/><line x1="478.9" y1="1693.2" x2="492.2" y2="1693.2" stroke="#cc0000" stroke-width="6"/><line x1="430.6" y1="1768.7" x2="492.2" y2="1768.7" stroke="#3162a0" stroke-width="6"/><line x1="430.6" y1="1843.9" x2="492.2" y2="1843.9" stroke="#cc0000" stroke-width="6"/><line x1="792.8" y1="1617.8" x2="853.3" y2="1617.8" stroke="#000" stroke-width="4"/><line x1="792.8" y1="1693.2" x2="853.3" y2="1693.2" stroke="#000" stroke-width="4"/><line x1="792.8" y1="1768.7" x2="853.3" y2="1768.7" stroke="#000" stroke-width="4"/><line x1="792.8" y1="1843.9" x2="853.3" y2="1843.9" stroke="#000" stroke-width="4"/><circle cx="823.2" cy="1617.8" r="22.2" fill="#000"/><circle cx="823.2" cy="1693.2" r="20.3" fill="#fff" stroke="#000" stroke-width="3.8"/><rect x="805.2" y="1750.7" width="36" height="36" fill="#000"/><rect x="807.1" y="1827.8" width="32.2" height="32.2" fill="#fff" stroke="#000" stroke-width="3.8"/><text transform="translate(437.94,118.6) scale(0.9858,1)" font-family="Liberation Sans" font-size="67" font-weight="bold" fill="#000" stroke="#000" stroke-width="0.5" xml:space="preserve">(a) ISMIP–HOM Exp. A</text><text transform="translate(498.34,201.4) scale(0.9315,1)" font-family="Liberation Sans" font-size="67" font-weight="normal" fill="#000" stroke="#000" stroke-width="0.8" xml:space="preserve">oga1 (FS)</text><text transform="translate(498.92,276.8) scale(0.9459,1)" font-family="Liberation Sans" font-size="67" font-weight="normal" fill="#000" stroke="#000" stroke-width="0.8" xml:space="preserve">rhi2 (BP)</text><text transform="translate(498.92,352) scale(0.7551,1)" font-family="Liberation Sans" font-size="67" font-weight="normal" fill="#000" stroke="#000" stroke-width="0.8" xml:space="preserve">FS</text><text transform="translate(498.03,427.4) scale(0.9341,1)" font-family="Liberation Sans" font-size="67" font-weight="normal" fill="#000" stroke="#000" stroke-width="0.8" xml:space="preserve">BP–like</text><text transform="translate(498.34,502.8) scale(0.8714,1)" font-family="Liberation Sans" font-size="67" font-weight="normal" fill="#000" stroke="#000" stroke-width="0.8" xml:space="preserve">P1P1GLS</text><text transform="translate(498.3,578) scale(0.8801,1)" font-family="Liberation Sans" font-size="67" font-weight="normal" fill="#000" stroke="#000" stroke-width="0.8" xml:space="preserve">P2P1</text><text transform="translate(538.47,1558.9) scale(0.9780,1)" font-family="Liberation Sans" font-size="67" font-weight="bold" fill="#000" stroke="#000" stroke-width="0.5" xml:space="preserve">(b) ISMIP–HOM Exp. C</text><text transform="translate(498.33,1641.8) scale(0.9325,1)" font-family="Liberation Sans" font-size="67" font-weight="normal" fill="#000" stroke="#000" stroke-width="0.8" xml:space="preserve">oga1 (FS)</text><text transform="translate(498.9,1717.2) scale(0.9506,1)" font-family="Liberation Sans" font-size="67" font-weight="normal" fill="#000" stroke="#000" stroke-width="0.8" xml:space="preserve">rhi2 (BP)</text><text transform="translate(498.94,1792.7) scale(0.7513,1)" font-family="Liberation Sans" font-size="67" font-weight="normal" fill="#000" stroke="#000" stroke-width="0.8" xml:space="preserve">FS</text><text transform="translate(498.05,1867.9) scale(0.9309,1)" font-family="Liberation Sans" font-size="67" font-weight="normal" fill="#000" stroke="#000" stroke-width="0.8" xml:space="preserve">BP–like</text><text transform="translate(860.79,1641.8) scale(0.9423,1)" font-family="Liberation Sans" font-size="67" font-weight="normal" fill="#000" stroke="#000" stroke-width="0.8" xml:space="preserve">P1P1GLS strong</text><text transform="translate(860.94,1717.2) scale(0.9111,1)" font-family="Liberation Sans" font-size="67" font-weight="normal" fill="#000" stroke="#000" stroke-width="0.8" xml:space="preserve">P1P1GLS weak</text><text transform="translate(860.58,1792.7) scale(0.9842,1)" font-family="Liberation Sans" font-size="67" font-weight="normal" fill="#000" stroke="#000" stroke-width="0.8" xml:space="preserve">P2P1 strong</text><text transform="translate(860.79,1867.9) scale(0.9413,1)" font-family="Liberation Sans" font-size="67" font-weight="normal" fill="#000" stroke="#000" stroke-width="0.8" xml:space="preserve">P2P1 weak</text><text transform="translate(149.21,1386.2) scale(1.0579,1)" font-family="Liberation Sans" font-size="73" font-weight="normal" fill="#262626" stroke="#262626" stroke-width="0.6" xml:space="preserve">13.500</text><text transform="translate(149.21,1055.45) scale(1.0579,1)" font-family="Liberation Sans" font-size="73" font-weight="normal" fill="#262626" stroke="#262626" stroke-width="0.6" xml:space="preserve">14.000</text><text transform="translate(149.21,724.7) scale(1.0579,1)" font-family="Liberation Sans" font-size="73" font-weight="normal" fill="#262626" stroke="#262626" stroke-width="0.6" xml:space="preserve">14.500</text><text transform="translate(149.21,393.95) scale(1.0579,1)" font-family="Liberation Sans" font-size="73" font-weight="normal" fill="#262626" stroke="#262626" stroke-width="0.6" xml:space="preserve">15.000</text><text transform="translate(149.21,63.2) scale(1.0579,1)" font-family="Liberation Sans" font-size="73" font-weight="normal" fill="#262626" stroke="#262626" stroke-width="0.6" xml:space="preserve">15.500</text><text transform="translate(149.21,2827) scale(1.0579,1)" font-family="Liberation Sans" font-size="73" font-weight="normal" fill="#262626" stroke="#262626" stroke-width="0.6" xml:space="preserve">15.980</text><text transform="translate(149.21,2449.14) scale(1.0579,1)" font-family="Liberation Sans" font-size="73" font-weight="normal" fill="#262626" stroke="#262626" stroke-width="0.6" xml:space="preserve">15.990</text><text transform="translate(149.21,2071.29) scale(1.0579,1)" font-family="Liberation Sans" font-size="73" font-weight="normal" fill="#262626" stroke="#262626" stroke-width="0.6" xml:space="preserve">16.000</text><text transform="translate(149.21,1693.43) scale(1.0579,1)" font-family="Liberation Sans" font-size="73" font-weight="normal" fill="#262626" stroke="#262626" stroke-width="0.6" xml:space="preserve">16.010</text><text transform="translate(385.06,1445) scale(0.9722,1)" font-family="Liberation Sans" font-size="73" font-weight="normal" fill="#262626" stroke="#262626" stroke-width="0.6" xml:space="preserve">0</text><text transform="translate(385.06,2886) scale(0.9722,1)" font-family="Liberation Sans" font-size="73" font-weight="normal" fill="#262626" stroke="#262626" stroke-width="0.6" xml:space="preserve">0</text><text transform="translate(713.03,1445) scale(0.9031,1)" font-family="Liberation Sans" font-size="73" font-weight="normal" fill="#262626" stroke="#262626" stroke-width="0.6" xml:space="preserve">1</text><text transform="translate(713.03,2886) scale(0.9031,1)" font-family="Liberation Sans" font-size="73" font-weight="normal" fill="#262626" stroke="#262626" stroke-width="0.6" xml:space="preserve">1</text><text transform="translate(1035.48,1445) scale(0.9412,1)" font-family="Liberation Sans" font-size="73" font-weight="normal" fill="#262626" stroke="#262626" stroke-width="0.6" xml:space="preserve">2</text><text transform="translate(1035.48,2886) scale(0.9412,1)" font-family="Liberation Sans" font-size="73" font-weight="normal" fill="#262626" stroke="#262626" stroke-width="0.6" xml:space="preserve">2</text><text transform="translate(1362.31,1445) scale(0.8971,1)" font-family="Liberation Sans" font-size="73" font-weight="normal" fill="#262626" stroke="#262626" stroke-width="0.6" xml:space="preserve">3</text><text transform="translate(1362.31,2886) scale(0.8971,1)" font-family="Liberation Sans" font-size="73" font-weight="normal" fill="#262626" stroke="#262626" stroke-width="0.6" xml:space="preserve">3</text><text transform="translate(1686.04,1445) scale(0.9579,1)" font-family="Liberation Sans" font-size="73" font-weight="normal" fill="#262626" stroke="#262626" stroke-width="0.6" xml:space="preserve">4</text><text transform="translate(1686.04,2886) scale(0.9579,1)" font-family="Liberation Sans" font-size="73" font-weight="normal" fill="#262626" stroke="#262626" stroke-width="0.6" xml:space="preserve">4</text><text transform="translate(2015.83,1445) scale(0.7914,1)" font-family="Liberation Sans" font-size="73" font-weight="normal" fill="#262626" stroke="#262626" stroke-width="0.6" xml:space="preserve">5</text><text transform="translate(2015.83,2886) scale(0.7914,1)" font-family="Liberation Sans" font-size="73" font-weight="normal" fill="#262626" stroke="#262626" stroke-width="0.6" xml:space="preserve">5</text><text transform="translate(1113.14,2969.5) scale(1.0615,1)" font-family="Liberation Sans" font-size="72" fill="#262626" stroke="#262626" stroke-width="0.6">x (km)</text><text transform="rotate(-90) translate(-1000.5,93.3) scale(1.0497,1)" font-family="Liberation Sans" font-size="72" fill="#262626" stroke="#262626" stroke-width="0.6">velocity v</text><text transform="rotate(-90) translate(-687.9,128.3) scale(1.1000,1)" font-family="Liberation Sans" font-size="58" fill="#262626" stroke="#262626" stroke-width="0.6">x</text><text transform="rotate(-90) translate(-632.54,93.3) scale(1.0100,1)" font-family="Liberation Sans" font-size="72" fill="#262626" stroke="#262626" stroke-width="0.6">(m a</text><text transform="rotate(-90) translate(-482.93,59.3) scale(0.9667,1)" font-family="Liberation Sans" font-size="56" fill="#262626" stroke="#262626" stroke-width="0.6">−1</text><text transform="rotate(-90) translate(-415.2,93.3) scale(0.8100,1)" font-family="Liberation Sans" font-size="72" fill="#262626" stroke="#262626" stroke-width="0.6">)</text><text transform="rotate(-90) translate(-2442,93.3) scale(1.0497,1)" font-family="Liberation Sans" font-size="72" fill="#262626" stroke="#262626" stroke-width="0.6">velocity v</text><text transform="rotate(-90) translate(-2129.4,128.3) scale(1.1000,1)" font-family="Liberation Sans" font-size="58" fill="#262626" stroke="#262626" stroke-width="0.6">x</text><text transform="rotate(-90) translate(-2074.04,93.3) scale(1.0100,1)" font-family="Liberation Sans" font-size="72" fill="#262626" stroke="#262626" stroke-width="0.6">(m a</text><text transform="rotate(-90) translate(-1924.43,59.3) scale(0.9667,1)" font-family="Liberation Sans" font-size="56" fill="#262626" stroke="#262626" stroke-width="0.6">−1</text><text transform="rotate(-90) translate(-1856.7,93.3) scale(0.8100,1)" font-family="Liberation Sans" font-size="72" fill="#262626" stroke="#262626" stroke-width="0.6">)</text></svg></body></html>
